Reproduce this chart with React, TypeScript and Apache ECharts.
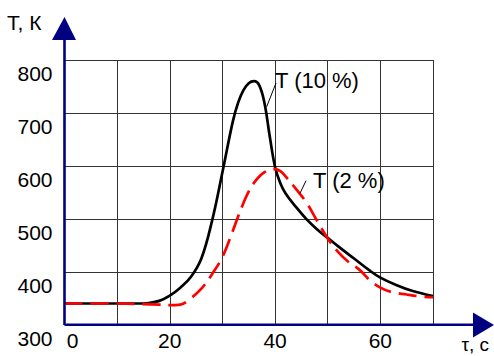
import React, { useEffect, useRef } from "react";
import * as echarts from "echarts";

const timeValues = [0, 5, 10, 14, 16, 18, 20, 22, 24, 26, 28, 30, 32, 33, 34, 35, 36, 37, 38, 39, 40, 41, 42, 44, 46, 48, 50, 52, 55, 58, 60, 63, 66, 70];
const t10Values = [340, 340, 340, 340, 341, 345, 355, 370, 390, 425, 495, 588, 685, 720, 743, 756, 760, 752, 718, 655, 598, 567, 548, 522, 499, 480, 464, 448, 425, 402, 389, 375, 364, 354];

const time2Values = [0, 10, 15, 18, 20, 22, 24, 26, 28, 30, 32, 33, 34, 35, 36, 37, 38, 39, 40, 41, 42, 44, 46, 48, 50, 52, 54, 56, 58, 60, 62, 65, 68, 70];
const t2Values = [340, 340, 339, 338, 337, 338, 350, 368, 395, 428, 478, 505, 530, 552, 568, 580, 588, 593, 594, 590, 580, 556, 530, 496, 463, 437, 418, 404, 384, 370, 362, 357, 353, 352];

const xTickLabels = [0, 20, 40, 60];
const yTicks = [300, 400, 500, 600, 700, 800];

const seriesNames = ["T (10 %)", "T (2 %)"];
const yAxisTitle = "Т, К";
const xAxisTitle = "τ, с";

const FONT = "'Liberation Sans', Arial, sans-serif";
const NAVY = "#000080";

export default function App() {
  const ref = useRef<HTMLDivElement>(null);
  useEffect(() => {
    if (!ref.current) return;
    const chart = echarts.init(ref.current, null, { renderer: "svg" });
    const option: any = {
      animation: false,
      textStyle: { fontFamily: FONT },
      grid: { left: 64.5, right: 61, top: 60, bottom: 31.3, containLabel: false },
      xAxis: {
        type: "value",
        min: 0,
        max: 70,
        interval: 10,
        axisLine: { show: false },
        axisTick: { show: false },
        splitLine: { show: true, lineStyle: { color: "#333", width: 1 } },
        axisLabel: {
          margin: 5,
          fontSize: 21,
          color: "#000",
          fontFamily: FONT,
          formatter: (v: number) =>
            xTickLabels.includes(v) ? (v === 0 ? "{z|0}" : String(v)) : "",
          rich: { z: { fontSize: 21, fontFamily: FONT, color: "#000", padding: [0, 0, 0, 16] } },
        },
      },
      yAxis: {
        type: "value",
        min: yTicks[0],
        max: yTicks[yTicks.length - 1],
        interval: 100,
        axisLine: { show: false },
        axisTick: { show: false },
        splitLine: { show: true, lineStyle: { color: "#333", width: 1 } },
        axisLabel: {
          margin: 12,
          fontSize: 21,
          color: "#000",
          fontFamily: FONT,
          verticalAlign: "top",
          padding: [3, 0, 0, 0],
        },
      },
      series: [
        {
          name: seriesNames[0],
          type: "line",
          smooth: 0.4,
          symbol: "none",
          data: timeValues.map((t, i) => [t, t10Values[i]]),
          lineStyle: { color: "#000", width: 2.7 },
          z: 3,
        },
        {
          name: seriesNames[1],
          type: "line",
          smooth: 0.4,
          symbol: "none",
          data: time2Values.map((t, i) => [t, t2Values[i]]),
          lineStyle: { color: "#ff0000", width: 2.7, type: [18, 8] },
          z: 4,
        },
      ],
      graphic: [
        { type: "line", shape: { x1: 64.5, y1: 325, x2: 64.5, y2: 38 }, style: { stroke: NAVY, lineWidth: 2.6 }, z: 10 },
        { type: "polygon", shape: { points: [[52, 40], [76, 40], [64.5, 17]] }, style: { fill: NAVY }, z: 10 },
        { type: "line", shape: { x1: 64.5, y1: 324.7, x2: 475, y2: 324.7 }, style: { stroke: NAVY, lineWidth: 2.6 }, z: 10 },
        { type: "polygon", shape: { points: [[473, 312.5], [473, 337.5], [494, 325]] }, style: { fill: NAVY }, z: 10 },
        { type: "text", x: 7, y: 22, style: { text: yAxisTitle, fontSize: 21, fontFamily: FONT, fill: "#000", verticalAlign: "middle" }, z: 10 },
        { type: "text", x: 489, y: 344, style: { text: xAxisTitle, fontSize: 19, fontFamily: FONT, fill: "#000", verticalAlign: "middle", align: "right" }, z: 10 },
        { type: "line", shape: { x1: 266.7, y1: 106.7, x2: 276, y2: 83 }, style: { stroke: "#000", lineWidth: 1 }, z: 10 },
        { type: "text", x: 275, y: 80, style: { text: seriesNames[0], fontSize: 22, fontFamily: FONT, fill: "#000", verticalAlign: "middle" }, z: 10 },
        { type: "line", shape: { x1: 300, y1: 193.3, x2: 306, y2: 180.7 }, style: { stroke: "#000", lineWidth: 1 }, z: 10 },
        { type: "text", x: 313, y: 180, style: { text: seriesNames[1], fontSize: 22, fontFamily: FONT, fill: "#000", verticalAlign: "middle" }, z: 10 },
      ],
    };
    chart.setOption(option);
    return () => chart.dispose();
  }, []);
  return <div ref={ref} style={{ width: 494, height: 356, position: "absolute", left: 0, top: 0 }} />;
}
